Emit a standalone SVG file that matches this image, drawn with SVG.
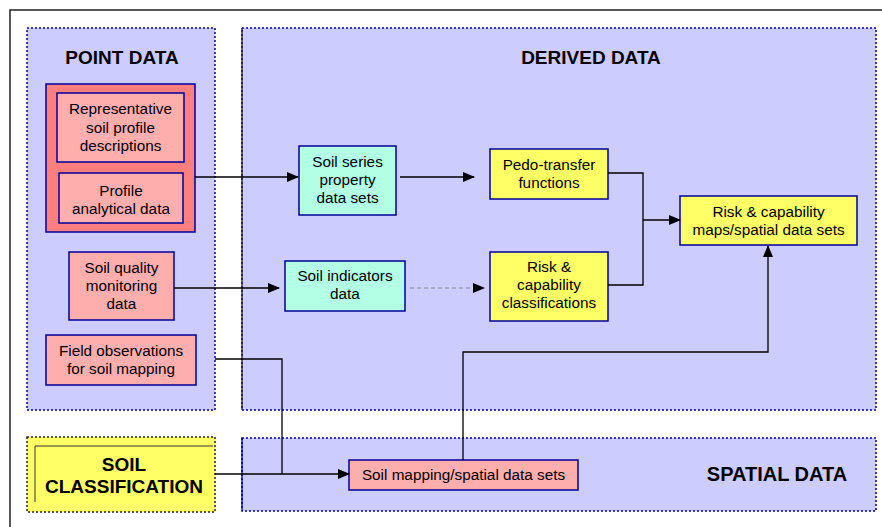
<svg xmlns="http://www.w3.org/2000/svg" width="882" height="527" viewBox="0 0 882 527">
<defs>
<marker id="ah" markerWidth="12" markerHeight="10" refX="11" refY="5" orient="auto" markerUnits="userSpaceOnUse">
<path d="M0,0 L12,5 L0,10 Z" fill="#000"/>
</marker>
<style>
text{font-family:"Liberation Sans",Arial,sans-serif;fill:#000;text-anchor:middle}
.t{font-size:15.3px}
.h{font-size:19px;font-weight:bold}
.panel{fill:#CCCCFF;stroke:#000099;stroke-width:1.5;stroke-dasharray:2 2}
.pink{fill:#FFAEAE;stroke:#000099;stroke-width:1.5}
.red{fill:#FF7F7F;stroke:#000099;stroke-width:1.5}
.cyan{fill:#B3FFE6;stroke:#000099;stroke-width:1.5}
.yel{fill:#FFFF66;stroke:#000099;stroke-width:1.5}
.c{fill:none;stroke:#000;stroke-width:1.3}
</style>
</defs>
<rect x="10" y="10" width="900" height="600" fill="#fff" stroke="#222" stroke-width="1.5"/>

<g id="panel-point">
<rect class="panel" x="27" y="28" width="188" height="382"/>
<text class="h" x="122" y="64">POINT DATA</text>
</g>
<g id="panel-derived">
<rect class="panel" x="242" y="28" width="634" height="382"/>
<line x1="242" y1="28" x2="242" y2="410" stroke="#222" stroke-width="1.3"/>
<text class="h" x="591" y="64">DERIVED DATA</text>
</g>
<g id="panel-spatial">
<rect class="panel" x="242" y="438" width="634" height="73"/>
<line x1="242" y1="438" x2="242" y2="511" stroke="#000099" stroke-width="1.3"/>
<text class="h" x="777" y="481" style="font-size:20px">SPATIAL DATA</text>
</g>
<g id="soil-classification">
<rect x="27" y="437" width="188" height="75" fill="#FFFF66" stroke="#222" stroke-width="1.5" stroke-dasharray="2 2"/>
<polyline points="35,502 35,446 213,446" fill="none" stroke="#333" stroke-width="1"/>
<text class="h" x="124" y="471">SOIL</text>
<text class="h" x="124" y="493">CLASSIFICATION</text>
</g>

<g id="point-core">
<rect class="red" x="46" y="84" width="149" height="148"/>
</g>
<g id="rep-profiles">
<rect class="pink" x="57" y="93" width="127" height="69"/>
<text class="t" x="120.5" y="114">Representative</text>
<text class="t" x="120.5" y="133">soil profile</text>
<text class="t" x="120.5" y="151">descriptions</text>
</g>
<g id="profile-analytical">
<rect class="pink" x="59" y="173" width="124" height="50"/>
<text class="t" x="121" y="196">Profile</text>
<text class="t" x="121" y="214">analytical data</text>
</g>
<g id="soil-quality">
<rect class="pink" x="69" y="252" width="105" height="68"/>
<text class="t" x="121.5" y="273">Soil quality</text>
<text class="t" x="121.5" y="291">monitoring</text>
<text class="t" x="121.5" y="309">data</text>
</g>
<g id="field-obs">
<rect class="pink" x="46" y="335" width="150" height="50"/>
<text class="t" x="121" y="356">Field observations</text>
<text class="t" x="121" y="374">for soil mapping</text>
</g>
<g id="soil-series">
<rect class="cyan" x="299" y="146" width="97" height="69"/>
<text class="t" x="347.5" y="167">Soil series</text>
<text class="t" x="347.5" y="185">property</text>
<text class="t" x="347.5" y="203">data sets</text>
</g>
<g id="soil-indicators">
<rect class="cyan" x="285" y="261" width="120" height="50"/>
<text class="t" x="345" y="281">Soil indicators</text>
<text class="t" x="345" y="299">data</text>
</g>
<g id="pedo-transfer">
<rect class="yel" x="490" y="149" width="118" height="50"/>
<text class="t" x="549" y="170">Pedo-transfer</text>
<text class="t" x="549" y="188">functions</text>
</g>
<g id="risk-class">
<rect class="yel" x="490" y="252" width="118" height="69"/>
<text class="t" x="549" y="272">Risk &amp;</text>
<text class="t" x="549" y="290">capability</text>
<text class="t" x="549" y="308">classifications</text>
</g>
<g id="risk-maps">
<rect class="yel" x="680" y="196" width="177" height="49"/>
<text class="t" x="768.5" y="217">Risk &amp; capability</text>
<text class="t" x="768.5" y="235">maps/spatial data sets</text>
</g>
<g id="soil-mapping">
<rect class="pink" x="349" y="460" width="229" height="30"/>
<text class="t" x="463.5" y="480">Soil mapping/spatial data sets</text>
</g>

<g id="connectors">
<line class="c" x1="195" y1="177" x2="298" y2="177" marker-end="url(#ah)"/>
<line class="c" x1="400" y1="177" x2="474" y2="177" marker-end="url(#ah)"/>
<line class="c" x1="174" y1="288" x2="279" y2="288" marker-end="url(#ah)"/>
<line x1="410" y1="288" x2="472" y2="288" stroke="#888" stroke-width="1" stroke-dasharray="4 3"/>
<line x1="470" y1="288" x2="484" y2="288" stroke="none" marker-end="url(#ah)"/>
<polyline class="c" points="608,173 643,173 643,285 608,285"/>
<line class="c" x1="643" y1="220" x2="680" y2="220" marker-end="url(#ah)"/>
<line class="c" x1="215" y1="474" x2="349" y2="474" marker-end="url(#ah)"/>
<polyline class="c" points="215,359 282,359 282,474"/>
<polyline class="c" points="463,460 463,352 768,352 768,246" marker-end="url(#ah)"/>
</g>
</svg>
